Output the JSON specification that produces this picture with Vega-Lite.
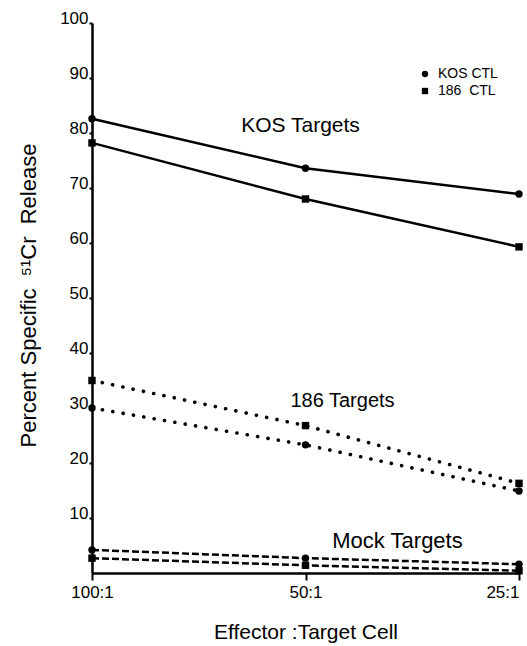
{
  "$schema": "https://vega.github.io/schema/vega-lite/v6.json",
  "width": 427,
  "height": 550,
  "autosize": "none",
  "padding": {"left": 92, "top": 23, "right": 8, "bottom": 73},
  "background": "white",
  "config": {
    "view": {"stroke": null},
    "font": "Liberation Sans",
    "axis": {"grid": false, "domainColor": "black", "tickColor": "black", "labelColor": "black", "titleColor": "black", "labelFont": "Liberation Sans", "titleFont": "Liberation Sans", "titleFontWeight": "normal"}
  },
  "data": {
    "values": [
      {"ratio": "100:1", "target": "KOS", "ctl": "KOS CTL", "pct": 82.6},
      {"ratio": "50:1", "target": "KOS", "ctl": "KOS CTL", "pct": 73.6},
      {"ratio": "25:1", "target": "KOS", "ctl": "KOS CTL", "pct": 68.9},
      {"ratio": "100:1", "target": "KOS", "ctl": "186 CTL", "pct": 78.2},
      {"ratio": "50:1", "target": "KOS", "ctl": "186 CTL", "pct": 68.0},
      {"ratio": "25:1", "target": "KOS", "ctl": "186 CTL", "pct": 59.3},
      {"ratio": "100:1", "target": "186", "ctl": "KOS CTL", "pct": 30.0},
      {"ratio": "50:1", "target": "186", "ctl": "KOS CTL", "pct": 23.3},
      {"ratio": "25:1", "target": "186", "ctl": "KOS CTL", "pct": 14.9},
      {"ratio": "100:1", "target": "186", "ctl": "186 CTL", "pct": 35.0},
      {"ratio": "50:1", "target": "186", "ctl": "186 CTL", "pct": 26.8},
      {"ratio": "25:1", "target": "186", "ctl": "186 CTL", "pct": 16.3},
      {"ratio": "100:1", "target": "Mock", "ctl": "KOS CTL", "pct": 4.2},
      {"ratio": "50:1", "target": "Mock", "ctl": "KOS CTL", "pct": 2.7},
      {"ratio": "25:1", "target": "Mock", "ctl": "KOS CTL", "pct": 1.6},
      {"ratio": "100:1", "target": "Mock", "ctl": "186 CTL", "pct": 2.7},
      {"ratio": "50:1", "target": "Mock", "ctl": "186 CTL", "pct": 1.4},
      {"ratio": "25:1", "target": "Mock", "ctl": "186 CTL", "pct": 0.4}
    ]
  },
  "encoding": {
    "x": {
      "field": "ratio", "type": "ordinal",
      "scale": {"type": "point", "padding": 0, "domain": ["100:1", "50:1", "25:1"]},
      "axis": {"title": "Effector :Target Cell", "labelAngle": 0, "labelFontSize": 17, "labelAlign": {"condition": {"test": "datum.value === '25:1'", "value": "right"}, "value": "center"}, "domainWidth": 2.5, "tickWidth": 2, "tickSize": 7, "labelPadding": 4, "titleFontSize": 21, "titleY": 59, "titleBaseline": "middle"}
    },
    "y": {
      "field": "pct", "type": "quantitative",
      "scale": {"domain": [0, 100], "nice": false, "zero": true},
      "axis": {"title": "Percent Specific\u00a0\u00a0⁵¹Cr\u00a0\u00a0Release", "values": [10, 20, 30, 40, 50, 60, 70, 80, 90, 100], "labelFontSize": 17, "labelBaseline": "alphabetic", "labelPadding": 1, "domainWidth": 2.5, "tickWidth": 2, "tickSize": 3, "titleFontSize": 22, "titleX": -64, "titleY": 272, "titleBaseline": "middle", "titleAlign": "center", "titleAngle": -90}
    }
  },
  "layer": [
    {
      "transform": [{"filter": "datum.target === 'KOS'"}],
      "mark": {"type": "line", "color": "black", "strokeWidth": 2.5},
      "encoding": {"detail": {"field": "ctl"}}
    },
    {
      "transform": [{"filter": "datum.target === '186'"}],
      "mark": {"type": "line", "color": "black", "strokeWidth": 3.6, "strokeDash": [0.1, 10.4], "strokeCap": "round"},
      "encoding": {"detail": {"field": "ctl"}}
    },
    {
      "transform": [{"filter": "datum.target === 'Mock'"}],
      "mark": {"type": "line", "color": "black", "strokeWidth": 2.5, "strokeDash": [7, 3]},
      "encoding": {"detail": {"field": "ctl"}}
    },
    {
      "mark": {"type": "point", "filled": true, "color": "black", "opacity": 1},
      "encoding": {
        "shape": {
          "field": "ctl", "type": "nominal",
          "scale": {"domain": ["KOS CTL", "186 CTL"], "range": ["circle", "square"]},
          "legend": {"title": null, "orient": "none", "legendX": 326, "legendY": 44, "labelFontSize": 14, "labelFont": "Liberation Sans", "labelColor": "black", "symbolSize": 40, "symbolFillColor": "black", "symbolStrokeColor": "black", "rowPadding": 3, "labelOffset": 6, "labelExpr": "datum.label === '186 CTL' ? '186\u00a0\u00a0CTL' : datum.label"}
        },
        "size": {"value": 55}
      }
    },
    {
      "data": {"values": [{"label": "KOS Targets", "ratio": "50:1", "pct": 81.3}]},
      "mark": {"type": "text", "fontSize": 21, "dx": -5, "color": "black", "baseline": "middle", "align": "center"},
      "encoding": {"text": {"field": "label"}}
    },
    {
      "data": {"values": [{"label": "186 Targets", "ratio": "50:1", "pct": 31.3}]},
      "mark": {"type": "text", "fontSize": 20, "dx": 37, "color": "black", "baseline": "middle", "align": "center"},
      "encoding": {"text": {"field": "label"}}
    },
    {
      "data": {"values": [{"label": "Mock Targets", "ratio": "50:1", "pct": 5.8}]},
      "mark": {"type": "text", "fontSize": 22, "dx": 92, "color": "black", "baseline": "middle", "align": "center"},
      "encoding": {"text": {"field": "label"}}
    }
  ]
}
